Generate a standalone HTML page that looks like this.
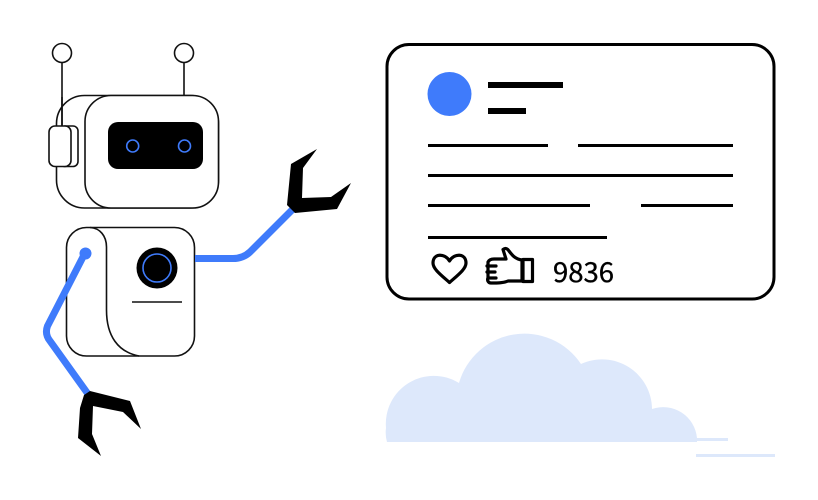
<!DOCTYPE html>
<html><head><meta charset="utf-8"><style>html,body{margin:0;padding:0;background:#fff}svg{display:block}</style></head><body>
<svg width="818" height="500" viewBox="0 0 818 500" xmlns="http://www.w3.org/2000/svg">
<rect width="818" height="500" fill="#fff"/>
<!-- cloud -->
<path d="M387 442Q385 435 386 428A48 48 0 0 1 459 383A68 68 0 0 1 581 364A50 50 0 0 1 652 409A34 34 0 0 1 697 438H728V441H697V442Z" fill="#dde8fb"/>
<rect x="696" y="454" width="79" height="3" fill="#dde8fb"/>
<!-- card -->
<rect x="387" y="44.500" width="387" height="254.500" rx="22" fill="#fff" stroke="#000" stroke-width="3"/>
<circle cx="449.500" cy="94" r="22" fill="#3f7bfb"/>
<g fill="#000">
<rect x="488" y="82" width="75" height="6"/><rect x="488" y="108" width="38" height="6"/>
<rect x="428" y="144" width="120" height="3"/><rect x="578" y="144" width="155" height="3"/>
<rect x="428" y="174" width="305" height="3"/>
<rect x="428" y="204" width="162" height="3"/><rect x="641" y="204" width="92" height="3"/>
<rect x="428" y="236" width="179" height="3"/>
</g>
<path d="M449.500 282.500C441 275 433 269 433 263C433 253 445 253 449.500 261C454 253 466 253 466 263C466 269 458 275 449.500 282.500Z" fill="none" stroke="#000" stroke-width="3.200" stroke-linejoin="round"/>
<g fill="none" stroke="#000" stroke-width="3.200" stroke-linejoin="round" stroke-linecap="round">
<path d="M506 259L503 249.500C505 248 507 248 509 251C512 255 515 259 522 260V281H508C504 283 497 283 491 283C488 283 487 280 488 278V262C489 260 491 259 494 259H506"/>
<path d="M487 266H496M487 272H495M488 278H496"/>
<rect x="523" y="259.500" width="9.500" height="22"/>
</g>
<text x="553" y="282" font-family="'Noto Sans CJK JP','Liberation Sans',sans-serif" font-size="27.500" fill="#000" stroke="#000" stroke-width="0.350">9836</text>
<!-- antennas -->
<g fill="none" stroke="#111" stroke-width="1.600">
<circle cx="62" cy="53" r="9.500" fill="#fff"/><circle cx="184" cy="53" r="9.500" fill="#fff"/>
<path d="M62 63V127M184 63V95"/>
<!-- head -->
<rect x="56.500" y="95.500" width="162" height="112.500" rx="28"/>
<rect x="85" y="95.500" width="133.500" height="112.500" rx="26" fill="#fff"/>
<rect x="60" y="126" width="18" height="40.500" rx="5" fill="#fff"/>
<rect x="49" y="126" width="22" height="40.500" rx="6" fill="#fff"/>
<path d="M62 97V126"/>
</g>
<rect x="108" y="122" width="95" height="47" rx="10" fill="#000"/>
<circle cx="132.700" cy="146" r="6" fill="none" stroke="#3f7bfb" stroke-width="1.600"/>
<circle cx="184.500" cy="146" r="6" fill="none" stroke="#3f7bfb" stroke-width="1.600"/>
<!-- body -->
<g fill="none" stroke="#111" stroke-width="1.600">
<rect x="66.500" y="227.500" width="128" height="128.500" rx="20" fill="#fff"/>
<path d="M90 227.500C100 228 106.500 236 106.500 247V310C106.500 336 118 352 139 356"/>
<path d="M132 302H182"/>
</g>
<circle cx="157" cy="268" r="20.500" fill="#000"/>
<circle cx="157" cy="268" r="14" fill="none" stroke="#3f7bfb" stroke-width="1.600"/>
<!-- arms -->
<g fill="none" stroke="#3f7bfb" stroke-width="7">
<path d="M85 253L47.500 326Q44.500 334 50 341L88 394"/>
<path d="M195 258.500H233Q243 258.500 250 252L293 209"/>
</g>
<circle cx="85.500" cy="253.500" r="6" fill="#3f7bfb"/>
<!-- claws -->
<path d="M84 395L90 391L130 401L141 429L123 412L93 406L92 434L101 456L78 438L80 408Z" fill="#000"/>
<path d="M291 164L317 149L303 168L302 198L331 197L351 183L337 209L295 213L287 205Z" fill="#000"/>
</svg>
</body></html>
